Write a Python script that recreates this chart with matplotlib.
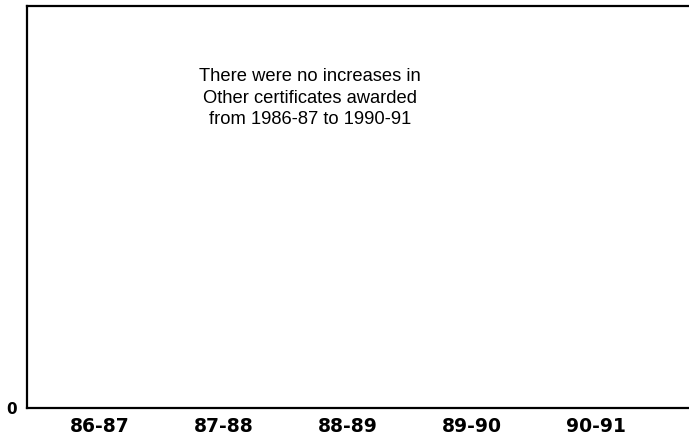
import matplotlib.pyplot as plt

# Other certificates awarded, by school year
years = ["86-87", "87-88", "88-89", "89-90", "90-91"]
increases = [0, 0, 0, 0, 0]
note = "There were no increases in\nOther certificates awarded\nfrom 1986-87 to 1990-91"

plt.rcParams['font.family'] = ['Liberation Sans', 'DejaVu Sans']
tick_font = dict(family=['DejaVu Sans'], weight='bold')

fig = plt.figure(figsize=(6.89, 4.38), dpi=100)
ax = fig.add_axes([27 / 689, 30 / 438, 662 / 689, 402 / 438])

ax.bar(range(len(years)), increases, width=0.5, color='black')

ax.set_xlim(-0.59, 4.75)
ax.set_ylim(0, 1)
ax.set_xticks(range(len(years)))
ax.set_xticklabels(years, fontsize=13.5, **tick_font)
ax.set_yticks([0])
ax.set_yticklabels(["0"], fontsize=11, **tick_font)
ax.tick_params(length=0)
ax.tick_params(axis='x', pad=6.5)
ax.tick_params(axis='y', pad=7)

for side in ('left', 'top', 'bottom'):
    ax.spines[side].set_linewidth(1.6)
ax.spines['right'].set_visible(False)

ax.text(0.4275, 0.771, note, transform=ax.transAxes, ha='center', va='center',
        fontsize=13.2, linespacing=1.35)

fig.savefig('out.png', dpi=100, facecolor='white')
